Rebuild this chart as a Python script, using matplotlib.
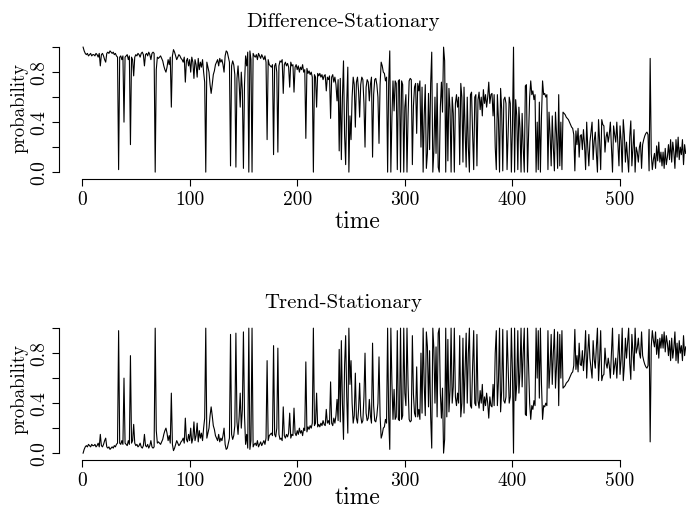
import numpy as np
import matplotlib
matplotlib.use("Agg")
import matplotlib.pyplot as plt

plt.rcParams['font.family'] = 'cmr10'
plt.rcParams['axes.formatter.use_mathtext'] = True

# probability of the difference-stationary model
prob_diff = [
    1.00, 0.97, 0.95, 0.94, 0.95, 0.93, 0.94, 0.95, 0.93, 0.94,
    0.94, 0.93, 0.95, 0.94, 0.92, 0.95, 0.85, 0.94, 0.95, 0.93,
    0.90, 0.88, 0.95, 0.96, 0.95, 0.97, 0.96, 0.95, 0.96, 0.94,
    0.95, 0.93, 0.92, 0.02, 0.92, 0.93, 0.90, 0.93, 0.40, 0.92,
    0.93, 0.94, 0.90, 0.93, 0.22, 0.92, 0.90, 0.77, 0.92, 0.94,
    0.93, 0.95, 0.94, 0.92, 0.95, 0.96, 0.94, 0.85, 0.94, 0.95,
    0.93, 0.96, 0.94, 0.90, 0.95, 0.96, 0.95, 0.00, 0.82, 0.92,
    0.91, 0.92, 0.93, 0.91, 0.89, 0.85, 0.82, 0.80, 0.84, 0.90,
    0.86, 0.92, 0.52, 0.93, 0.98, 0.96, 0.93, 0.90, 0.92, 0.94,
    0.93, 0.91, 0.90, 0.88, 0.92, 0.72, 0.89, 0.91, 0.85, 0.90,
    0.80, 0.92, 0.88, 0.75, 0.90, 0.86, 0.76, 0.91, 0.82, 0.88,
    0.84, 0.90, 0.80, 0.72, 0.00, 0.88, 0.84, 0.80, 0.70, 0.63,
    0.70, 0.78, 0.81, 0.86, 0.88, 0.90, 0.85, 0.91, 0.88, 0.90,
    0.86, 0.80, 0.93, 0.97, 0.96, 0.92, 0.88, 0.05, 0.85, 0.89,
    0.86, 0.78, 0.04, 0.75, 0.85, 0.71, 0.52, 0.80, 0.65, 0.03,
    0.70, 0.93, 0.85, 0.96, 0.00, 0.97, 0.90, 0.00, 0.95, 0.93,
    0.92, 0.94, 0.90, 0.95, 0.93, 0.91, 0.94, 0.92, 0.90, 0.93,
    0.88, 0.26, 0.90, 0.86, 0.85, 0.84, 0.86, 0.14, 0.85, 0.87,
    0.80, 0.16, 0.85, 0.89, 0.88, 0.90, 0.63, 0.86, 0.88, 0.85,
    0.87, 0.84, 0.68, 0.88, 0.85, 0.86, 0.64, 0.84, 0.86, 0.82,
    0.85, 0.80, 0.84, 0.82, 0.86, 0.80, 0.82, 0.27, 0.83, 0.79,
    0.81, 0.78, 0.80, 0.76, 0.00, 0.78, 0.76, 0.52, 0.79, 0.77,
    0.79, 0.76, 0.78, 0.74, 0.77, 0.78, 0.65, 0.76, 0.74, 0.77,
    0.43, 0.76, 0.78, 0.72, 0.76, 0.70, 0.57, 0.74, 0.17, 0.75,
    0.10, 0.60, 0.89, 0.30, 0.06, 0.55, 0.84, 0.00, 0.45, 0.26,
    0.60, 0.76, 0.70, 0.36, 0.72, 0.76, 0.65, 0.44, 0.70, 0.76,
    0.74, 0.55, 0.20, 0.68, 0.74, 0.72, 0.57, 0.70, 0.76, 0.12,
    0.62, 0.74, 0.75, 0.70, 0.60, 0.23, 0.70, 0.88, 0.85, 0.80,
    0.79, 0.73, 0.76, 0.00, 0.72, 0.97, 0.00, 0.44, 0.73, 0.49,
    0.73, 0.71, 0.02, 0.73, 0.74, 0.00, 0.73, 0.70, 0.00, 0.52,
    0.62, 0.00, 0.45, 0.73, 0.75, 0.74, 0.06, 0.53, 0.68, 0.71,
    0.31, 0.71, 0.65, 0.73, 0.20, 0.68, 0.00, 0.45, 0.70, 0.03,
    0.15, 0.63, 0.18, 0.71, 0.96, 0.00, 0.17, 0.60, 0.15, 0.71,
    0.04, 0.00, 0.52, 0.72, 0.48, 1.00, 0.89, 0.00, 0.71, 0.09,
    0.67, 0.50, 0.00, 0.60, 0.47, 0.00, 0.55, 0.62, 0.52, 0.60,
    0.06, 0.71, 0.60, 0.08, 0.68, 0.33, 0.04, 0.60, 0.20, 0.00,
    0.62, 0.64, 0.30, 0.02, 0.60, 0.62, 0.05, 0.58, 0.64, 0.50,
    0.60, 0.45, 0.66, 0.55, 0.62, 0.52, 0.60, 0.72, 0.55, 0.62,
    0.63, 0.45, 0.62, 0.20, 0.02, 0.62, 0.42, 0.00, 0.67, 0.50,
    0.01, 0.58, 0.60, 0.55, 0.02, 0.30, 0.60, 0.55, 0.00, 0.35,
    1.00, 0.00, 0.58, 0.45, 0.02, 0.52, 0.35, 0.00, 0.47, 0.20,
    0.00, 0.69, 0.70, 0.00, 0.30, 0.60, 0.73, 0.62, 0.65, 0.58,
    0.62, 0.00, 0.40, 0.02, 0.56, 0.00, 0.45, 0.73, 0.62, 0.63,
    0.60, 0.62, 0.02, 0.48, 0.30, 0.05, 0.45, 0.20, 0.01, 0.48,
    0.30, 0.03, 0.62, 0.05, 0.40, 0.02, 0.48, 0.47, 0.46, 0.44,
    0.43, 0.42, 0.40, 0.38, 0.36, 0.35, 0.30, 0.01, 0.33, 0.22,
    0.35, 0.12, 0.29, 0.30, 0.18, 0.34, 0.22, 0.02, 0.40, 0.20,
    0.05, 0.24, 0.32, 0.40, 0.10, 0.25, 0.32, 0.15, 0.00, 0.42,
    0.25, 0.02, 0.42, 0.38, 0.37, 0.16, 0.28, 0.32, 0.24, 0.30,
    0.40, 0.20, 0.00, 0.37, 0.30, 0.24, 0.40, 0.22, 0.05, 0.37,
    0.25, 0.00, 0.42, 0.30, 0.08, 0.24, 0.12, 0.00, 0.28, 0.41,
    0.05, 0.20, 0.34, 0.00, 0.20, 0.16, 0.08, 0.20, 0.24, 0.03,
    0.22, 0.26, 0.29, 0.31, 0.32, 0.30, 0.01, 0.91, 0.15, 0.02,
    0.10, 0.15, 0.03, 0.21, 0.09, 0.24, 0.08, 0.16, 0.05, 0.16,
    0.03, 0.19, 0.06, 0.12, 0.22, 0.10, 0.26, 0.08, 0.24, 0.16,
    0.03, 0.26, 0.12, 0.28, 0.10, 0.20, 0.14, 0.26, 0.06, 0.22, 0.15,
]
time = np.arange(1, len(prob_diff) + 1)
# the two model probabilities add up to one
prob_trend = 1 - np.array(prob_diff)

titles = ["Difference-Stationary", "Trend-Stationary"]
x_ticks = [0, 100, 200, 300, 400, 500]
y_ticks = [0.0, 0.2, 0.4, 0.6, 0.8, 1.0]
y_labels = ["0.0", "", "0.4", "", "0.8", ""]

W, H = 686, 508
fig = plt.figure(figsize=(W / 100, H / 100), dpi=100)


def px(x, y):
    return x / W, 1 - y / H


panels = [(prob_diff, 0, 0), (prob_trend, 281, 276)]
for (series, off, lab_off), title in zip(panels, titles):
    bottom = 179 + off
    ax = fig.add_axes([59 / W, (H - bottom) / H, 627 / W, 139.6 / H])
    ax.plot(time, series, color='black', lw=0.8)
    ax.set_xlim(-21.4, 561.3)
    ax.set_ylim(-0.055, 1.062)
    for s in ['top', 'right']:
        ax.spines[s].set_visible(False)
    ax.spines['left'].set_bounds(0, 1)
    ax.spines['bottom'].set_bounds(0, 500)
    for s in ['left', 'bottom']:
        ax.spines[s].set_linewidth(0.8)
    ax.set_xticks(x_ticks)
    ax.set_xticklabels([str(v) for v in x_ticks])
    ax.set_yticks(y_ticks)
    ax.set_yticklabels(y_labels, rotation=90, va='center')
    ax.tick_params(direction='out', length=5, width=0.8, labelsize=14)
    ax.tick_params(axis='y', pad=3)
    ax.patch.set_alpha(0)

    fig.text(*px(343, 22 + off), title, ha='center', va='center', fontsize=15)
    fig.text(*px(357, 222 + lab_off), "time", ha='center', va='center',
             fontsize=17)
    fig.text(*px(19, 108 + off), "probability", ha='center', va='center',
             rotation=90, fontsize=13.5)

fig.savefig("out.png", dpi=100)
